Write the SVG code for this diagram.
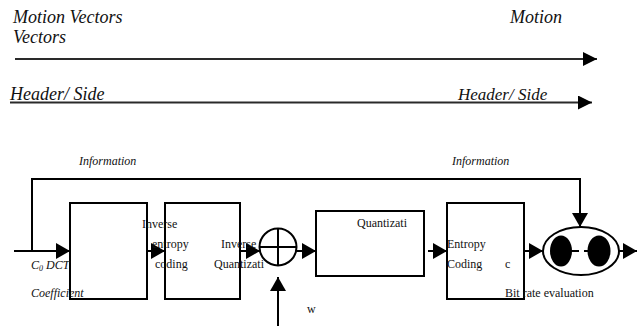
<svg xmlns="http://www.w3.org/2000/svg" width="637" height="326" viewBox="0 0 637 326">
<style>
text{font-family:'Liberation Serif','Times New Roman','DejaVu Serif',serif;fill:#111}
.it{font-style:italic}
.big{font-size:18px}
.sm{font-size:12px}
.rg{font-size:12px}
.ln{fill:none;stroke:#000;stroke-width:2}
.top{fill:none;stroke:#2a2a2a;stroke-width:2}
.box{fill:none;stroke:#000;stroke-width:2}
</style>
<defs>
<marker id="ah" markerUnits="userSpaceOnUse" markerWidth="14" markerHeight="16" refX="14" refY="8" orient="auto">
<path d="M0,0 L14,8 L0,16 Z" fill="#000"/>
</marker>
<marker id="ahs" markerUnits="userSpaceOnUse" markerWidth="14" markerHeight="14" refX="14" refY="7" orient="auto">
<path d="M0,0 L14,7 L0,14 Z" fill="#000"/>
</marker>
</defs>
<g id="labels-top">
<text class="it big" x="13" y="23" font-family="Liberation Serif, serif">Motion Vectors</text>
<text class="it big" x="13" y="43" font-family="Liberation Serif, serif">Vectors</text>
<text class="it big" x="510" y="23" font-family="Liberation Serif, serif">Motion</text>
<text class="it big" x="10" y="100" font-family="Liberation Serif, serif">Header/ Side</text>
<text class="it" font-size="17" x="458" y="100" font-family="Liberation Serif, serif">Header/ Side</text>
<text class="it sm" x="79" y="165" font-family="Liberation Serif, serif">Information</text>
<text class="it sm" x="452" y="165" font-family="Liberation Serif, serif">Information</text>
</g>
<g id="connectors">
<path class="top" d="M15,59 H597" marker-end="url(#ahs)"/>
<path class="top" d="M10,102.5 H592" marker-end="url(#ahs)"/>
<path class="ln" d="M32,251 V179 H580 V227" marker-end="url(#ah)"/>
<path class="ln" d="M14,251 H70" marker-end="url(#ah)"/>
<path class="ln" d="M147,251 H165" marker-end="url(#ah)"/>
<path class="ln" d="M240,251 H260" marker-end="url(#ah)"/>
<path class="ln" d="M297,251 H316" marker-end="url(#ah)"/>
<path class="ln" d="M278,326 V277" marker-end="url(#ah)"/>
<path class="ln" d="M428,251 H447" marker-end="url(#ah)"/>
<path class="ln" d="M524,251 H543" marker-end="url(#ah)"/>
<path class="ln" d="M619,251 H637" marker-end="url(#ah)"/>
</g>
<g id="dct-box">
<rect class="box" x="70" y="203" width="77" height="96"/>
</g>
<g id="inverse-entropy">
<rect class="box" x="165" y="203" width="75" height="96"/>
</g>
<g id="sum">
<circle cx="278" cy="247" r="18.5" fill="#fff" stroke="#000" stroke-width="2"/>
<path class="ln" d="M259.5,247 H296.5 M278,228.5 V265.5"/>
</g>
<g id="quantization">
<rect class="box" x="316" y="211" width="108" height="65"/>
</g>
<g id="entropy-coding">
<rect class="box" x="447" y="203" width="77" height="96"/>
</g>
<g id="bitrate">
<ellipse cx="581" cy="251" rx="38" ry="24" fill="#fff" stroke="#000" stroke-width="2"/>
<path class="ln" d="M565,251 H579 M584,251 H594"/>
<ellipse cx="561" cy="251" rx="11" ry="15.5" fill="#000"/>
<ellipse cx="599" cy="251" rx="11.5" ry="15.5" fill="#000"/>
</g>
<g id="texts" font-family="Liberation Serif, serif">
<text class="rg" x="142" y="228">Inverse</text>
<text class="rg" x="152" y="248">entropy</text>
<text class="rg" x="155" y="268">coding</text>
<text class="rg" x="221" y="248">Inverse</text>
<text class="rg" x="214" y="268">Quantizati</text>
<text class="rg" x="357" y="227">Quantizati</text>
<text class="rg" x="447" y="248">Entropy</text>
<text class="rg" x="447" y="268">Coding</text>
<text class="rg" x="505" y="268">c</text>
<text class="rg" x="505" y="297">Bit rate evaluation</text>
<text class="rg" x="307" y="313">w</text>
<text class="it sm" x="31" y="269">C<tspan font-size="8" dy="2">0</tspan><tspan dy="-2"> DCT</tspan></text>
<text class="it sm" x="31" y="297">Coefficient</text>
</g>
</svg>
